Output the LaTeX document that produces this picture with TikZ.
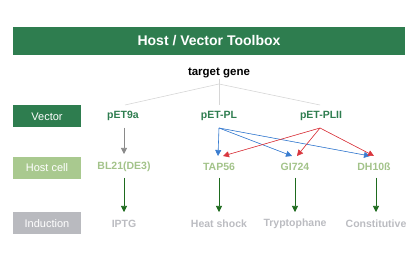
\documentclass[tikz,border=0pt]{standalone}
\usepackage{fontspec}
\setmainfont{Liberation Sans}
\usetikzlibrary{arrows.meta}
\definecolor{dgreen}{HTML}{2E7D4F}
\definecolor{lgreen}{HTML}{A9C98F}
\definecolor{hosttxt}{HTML}{A3C38A}
\definecolor{gbox}{HTML}{B9BABF}
\definecolor{gtxt}{HTML}{BBBCC1}
\definecolor{arrgreen}{HTML}{1E6B1E}
\definecolor{bluearr}{HTML}{3A7DD0}
\definecolor{redarr}{HTML}{D9363E}
\definecolor{treeline}{HTML}{D6D6D6}
\definecolor{grayarr}{HTML}{8A8A8A}
\tikzset{
  rowbox/.style={minimum width=68pt, minimum height=22pt, inner sep=0pt, font=\fontsize{11}{13}\selectfont, text=white},
  lab/.style={font=\bfseries\fontsize{10.5}{12}\selectfont, inner sep=1pt},
  veclab/.style={lab, text=dgreen},
  hostlab/.style={lab, text=hosttxt},
  indlab/.style={lab, text=gtxt},
  tip/.style={-{Triangle[length=6pt,width=6pt]}},
  garr/.style={tip, draw=arrgreen, fill=arrgreen, line width=0.6pt},
  barr/.style={tip, draw=bluearr, fill=bluearr, line width=0.6pt},
  rarr/.style={tip, draw=redarr, fill=redarr, line width=0.6pt},
}
\begin{document}
\begin{tikzpicture}[x=1pt,y=-1pt]
\useasboundingbox (0,0) rectangle (420,261);
% title
\node[fill=dgreen, minimum width=392pt, minimum height=28pt, inner sep=0pt, text=white, font=\bfseries\fontsize{14}{16}\selectfont] (title) at (209,41) {Host / Vector Toolbox};
\node[font=\bfseries\fontsize{11.5}{13}\selectfont, inner sep=1pt] (gene) at (219,73) {target gene};
\coordinate (gb) at (219,84);
% row labels
\node[rowbox, fill=dgreen] (vec) at (47,116.5) {Vector};
\node[rowbox, fill=lgreen] (host) at (47,168) {Host cell};
\node[rowbox, fill=gbox] (ind) at (47,223.5) {Induction};
% vectors
\node[veclab] (p9) at (123,116) {pET9a};
\node[veclab] (pl) at (219,116) {pET-PL};
\node[veclab] (pl2) at (321,116) {pET-PLII};
% hosts
\node[hostlab] (bl) at (124,167) {BL21(DE3)};
\node[hostlab] (tap) at (219,167) {TAP56};
\node[hostlab] (gi) at (295,167) {GI724};
\node[hostlab] (dh) at (374,167) {DH10ß};
% induction
\node[indlab] (iptg) at (124,224) {IPTG};
\node[indlab] (heat) at (219,224) {Heat shock};
\node[indlab] (tryp) at (295,224) {Tryptophane};
\node[indlab] (cons) at (376,224) {Constitutive};
% tree lines
\coordinate (t1) at (125,105);
\coordinate (t2) at (219,105);
\coordinate (t3) at (320,105);
\draw[treeline, line width=0.6pt] (gb) -- (t1);
\draw[treeline, line width=0.6pt] (gene.south) -- (t2);
\draw[treeline, line width=0.6pt] (gb) -- (t3);
% vector -> host
\coordinate (g1) at (124,128); \coordinate (g2) at (124,154);
\draw[tip, draw=grayarr, fill=grayarr, line width=0.6pt] (g1) -- (g2);
\coordinate (pls) at (219,128);
\coordinate (pl2s) at (320,128);
\coordinate (b1) at (218,156);
\coordinate (b2) at (292,156);
\coordinate (b3) at (370,156);
\coordinate (r1) at (223,156);
\coordinate (r2) at (297,156);
\coordinate (r3) at (374,156);
\draw[barr] (pls) -- (b1);
\draw[barr] (pls) -- (b2);
\draw[barr] (pls) -- (b3);
\draw[rarr] (pl2s) -- (r1);
\draw[rarr] (pl2s) -- (r2);
\draw[rarr] (pl2s) -- (r3);
% host -> induction
\foreach \n/\x in {a/124,b/219,c/295,d/376}{
  \coordinate (s\n) at (\x,178);
  \coordinate (e\n) at (\x,212);
  \draw[garr] (s\n) -- (e\n);
}
\end{tikzpicture}
\end{document}
